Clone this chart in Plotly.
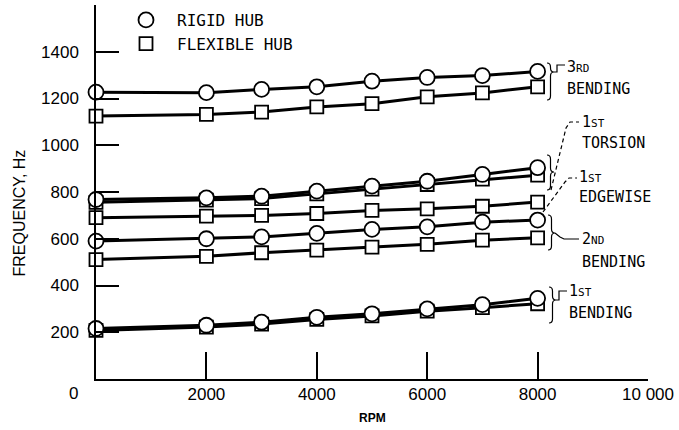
import plotly.graph_objects as go

# ---------------- data ----------------
rpm = [0, 2000, 3000, 4000, 5000, 6000, 7000, 8000]

rigid_3rd_bending = [1227, 1225, 1239, 1250, 1274, 1290, 1298, 1316]
flex_3rd_bending = [1125, 1132, 1142, 1164, 1178, 1207, 1224, 1250]
rigid_1st_torsion = [768, 775, 782, 804, 825, 846, 875, 904]
flex_1st_torsion = [756, 765, 772, 792, 812, 832, 855, 872]
flex_1st_edgewise = [690, 697, 700, 708, 721, 728, 739, 757]
rigid_2nd_bending = [590, 600, 608, 623, 640, 651, 671, 680]
flex_2nd_bending = [511, 525, 540, 551, 564, 576, 594, 604]
rigid_1st_bending = [216, 230, 243, 264, 279, 300, 318, 345]
flex_1st_bending = [208, 222, 235, 255, 270, 290, 305, 322]

x_tick_vals = [2000, 4000, 6000, 8000, 10000]
x_tick_text = ["2000", "4000", "6000", "8000", "10 000"]
y_tick_vals = [200, 400, 600, 800, 1000, 1200, 1400]
y_tick_text = ["200", "400", "600", "800", "1000", "1200", "1400"]

# ---------------- layout helpers ----------------
W, H = 679, 430
L, R, T, B = 96, 31, 5, 51
PW, PH = W - L - R, H - T - B


def px(x):
    return (x - L) / PW


def py(y):
    return (H - B - y) / PH


fig = go.Figure()

flex_marker = dict(symbol="square", size=13, color="white",
                   line=dict(color="black", width=1.8))
rigid_marker = dict(symbol="circle", size=15, color="white",
                    line=dict(color="black", width=1.8))
line_style = dict(color="black", width=3)

for ys in [flex_3rd_bending, flex_1st_torsion, flex_1st_edgewise,
           flex_2nd_bending, flex_1st_bending]:
    fig.add_trace(go.Scatter(x=rpm, y=ys, mode="lines+markers",
                             line=line_style, marker=flex_marker,
                             showlegend=False, cliponaxis=False))
for ys in [rigid_3rd_bending, rigid_1st_torsion, rigid_2nd_bending,
           rigid_1st_bending]:
    fig.add_trace(go.Scatter(x=rpm, y=ys, mode="lines+markers",
                             line=line_style, marker=rigid_marker,
                             showlegend=False, cliponaxis=False))

# legend entries
fig.add_trace(go.Scatter(x=[None], y=[None], mode="markers", name="RIGID HUB",
                         marker=rigid_marker, showlegend=True))
fig.add_trace(go.Scatter(x=[None], y=[None], mode="markers", name="FLEXIBLE HUB",
                         marker=flex_marker, showlegend=True))

tick_font = dict(family="Liberation Sans, Arial, sans-serif", size=17, color="black")
mono = "DejaVu Sans Mono, monospace"

fig.update_layout(
    width=W, height=H,
    margin=dict(l=L, r=R, t=T, b=B, autoexpand=False),
    paper_bgcolor="white", plot_bgcolor="white",
    showlegend=True,
    legend=dict(x=px(115), y=py(3), xanchor="left", yanchor="top",
                font=dict(family=mono, size=16, color="black"),
                bgcolor="rgba(0,0,0,0)", itemwidth=52, tracegroupgap=0),
    xaxis=dict(range=[0, 10000], showgrid=False, zeroline=False, automargin=False,
               showline=True, linecolor="black", linewidth=2,
               ticks="inside", ticklen=27, tickwidth=1.5, tickcolor="black",
               tickvals=x_tick_vals, ticktext=x_tick_text,
               tickfont=tick_font, ticklabelstandoff=-1),
    yaxis=dict(range=[0, 1600], showgrid=False, zeroline=False, automargin=False,
               showline=True, linecolor="black", linewidth=1.5,
               ticks="inside", ticklen=23, tickwidth=1.5, tickcolor="black",
               tickvals=y_tick_vals, ticktext=y_tick_text,
               tickfont=tick_font, ticklabelstandoff=12),
)

annotations = [
    dict(x=0, y=0, xref="x", yref="y", text="0", showarrow=False,
         xshift=-23, yshift=-14, font=tick_font),
    dict(x=px(8), y=py(213), xref="paper", yref="paper", text="FREQUENCY, Hz",
         textangle=-90, showarrow=False,
         font=dict(family="Liberation Sans, Arial, sans-serif", size=16, color="black")),
    dict(x=px(372), y=py(427), xref="paper", yref="paper", text="<b>RPM</b>",
         showarrow=False,
         font=dict(family="Liberation Sans, Arial, sans-serif", size=12, color="black")),
]

small = "<span style='font-size:11px'>{}</span>"
labels = [
    (565, 67, "3" + small.format("RD")), (565, 89, "BENDING"),
    (580, 122, "1" + small.format("ST")), (580, 143, "TORSION"),
    (577, 177, "1" + small.format("ST")), (577, 197, "EDGEWISE"),
    (580, 239, "2" + small.format("ND")), (580, 262, "BENDING"),
    (567, 291, "1" + small.format("ST")), (567, 313, "BENDING"),
]
for lx, ly, txt in labels:
    annotations.append(dict(x=px(lx), y=py(ly), xref="paper", yref="paper",
                            text=txt, showarrow=False, xanchor="left",
                            yanchor="middle",
                            font=dict(family=mono, size=15, color="black")))
fig.update_layout(annotations=annotations)


def brace(x0, ytop, ybot, ytip, w=7):
    xm = x0 + w / 2
    xt = x0 + w
    pts = [
        ("M", [(x0, ytop)]),
        ("Q", [(xm, ytop), (xm, ytop + 4)]),
        ("L", [(xm, ytip - 4)]),
        ("Q", [(xm, ytip), (xt, ytip)]),
        ("Q", [(xm, ytip), (xm, ytip + 4)]),
        ("L", [(xm, ybot - 4)]),
        ("Q", [(xm, ybot), (x0, ybot)]),
    ]
    s = ""
    for cmd, ps in pts:
        s += cmd + " " + " ".join(f"{px(a):.5f},{py(b):.5f}" for a, b in ps) + " "
    return s.strip()


def poly(points):
    return "M " + " L ".join(f"{px(a):.5f},{py(b):.5f}" for a, b in points)


shapes = []
lw = dict(color="black", width=1.2)
for x0, yt, yb, ytip in [(547, 63, 100, 72), (547, 155, 190, 172),
                         (548, 215, 250, 233), (549, 287, 323, 300)]:
    shapes.append(dict(type="path", xref="paper", yref="paper",
                       path=brace(x0, yt, yb, ytip), line=lw))
# connectors
shapes.append(dict(type="path", xref="paper", yref="paper",
                   path=poly([(554, 72), (557, 72), (557, 65), (565, 65)]), line=lw))
shapes.append(dict(type="path", xref="paper", yref="paper",
                   path=poly([(551, 190), (566, 128), (570, 122), (579, 122)]),
                   line=dict(color="black", width=1.2, dash="4px,3px")))
shapes.append(dict(type="path", xref="paper", yref="paper",
                   path=poly([(543, 212), (565, 182), (569, 178), (577, 178)]),
                   line=dict(color="black", width=1.2, dash="4px,3px")))
shapes.append(dict(type="path", xref="paper", yref="paper",
                   path=poly([(555, 233), (560, 237), (564, 239), (579, 239)]), line=lw))
shapes.append(dict(type="path", xref="paper", yref="paper",
                   path=poly([(556, 300), (559, 300), (559, 291), (567, 291)]), line=lw))
fig.update_layout(shapes=shapes)

fig.write_html("out.html", config={"displayModeBar": False},
               post_script="document.body.style.margin='0';document.body.style.padding='0';")
